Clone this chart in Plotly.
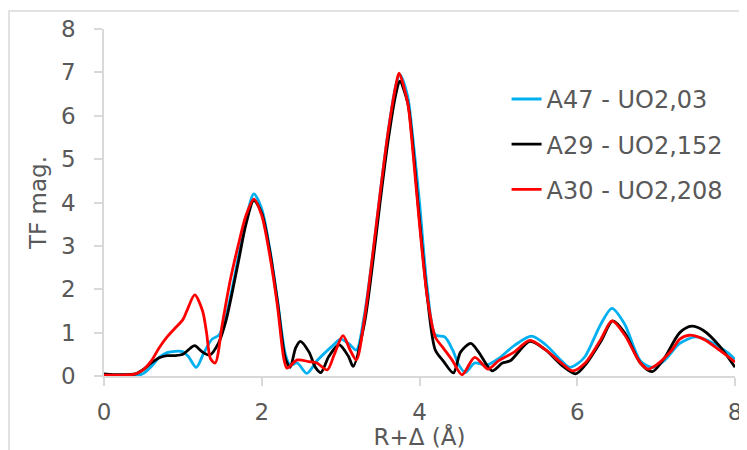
import plotly.graph_objects as go

# A47 - UO2,03 (blue)
r_a47 = [0, 0.2, 0.4, 0.5, 0.6, 0.7, 0.8, 0.9, 1.0, 1.07, 1.17, 1.27, 1.37, 1.46, 1.55, 1.7, 1.8, 1.9, 2.0, 2.1, 2.2, 2.3, 2.36, 2.45, 2.57, 2.7, 2.9, 3.0, 3.1, 3.2, 3.3, 3.4, 3.5, 3.6, 3.7, 3.75, 3.85, 3.9, 4.0, 4.1, 4.2, 4.32, 4.42, 4.5, 4.58, 4.7, 4.85, 5.0, 5.2, 5.42, 5.6, 5.8, 5.9, 6.0, 6.1, 6.3, 6.44, 6.6, 6.8, 6.95, 7.1, 7.3, 7.5, 7.7, 7.9, 8.0]
v_a47 = [0.02, 0.0, 0.0, 0.06, 0.22, 0.43, 0.54, 0.57, 0.56, 0.45, 0.2, 0.55, 0.85, 0.95, 1.4, 2.7, 3.6, 4.2, 3.85, 2.95, 1.75, 0.5, 0.25, 0.3, 0.06, 0.35, 0.7, 0.85, 0.75, 0.6, 1.4, 2.7, 4.2, 5.6, 6.7, 6.95, 6.45, 5.75, 4.0, 2.0, 0.95, 0.9, 0.6, 0.25, 0.08, 0.3, 0.25, 0.4, 0.7, 0.92, 0.72, 0.35, 0.2, 0.28, 0.45, 1.2, 1.56, 1.2, 0.35, 0.2, 0.35, 0.75, 0.9, 0.78, 0.55, 0.38]

# A29 - UO2,152 (black)
r_a29 = [0, 0.2, 0.4, 0.5, 0.6, 0.7, 0.8, 0.9, 1.0, 1.1, 1.15, 1.25, 1.34, 1.45, 1.55, 1.7, 1.8, 1.9, 2.0, 2.1, 2.2, 2.3, 2.36, 2.43, 2.49, 2.6, 2.68, 2.75, 2.85, 2.98, 3.1, 3.16, 3.3, 3.4, 3.5, 3.6, 3.7, 3.75, 3.85, 3.9, 4.0, 4.1, 4.2, 4.3, 4.43, 4.52, 4.65, 4.75, 4.92, 5.05, 5.15, 5.4, 5.6, 5.8, 5.98, 6.1, 6.3, 6.45, 6.6, 6.8, 6.95, 7.1, 7.3, 7.45, 7.6, 7.8, 8.0]
v_a29 = [0.05, 0.03, 0.05, 0.15, 0.3, 0.42, 0.47, 0.47, 0.5, 0.65, 0.7, 0.55, 0.48, 0.75, 1.3, 2.6, 3.5, 4.05, 3.75, 2.9, 1.7, 0.4, 0.2, 0.65, 0.8, 0.55, 0.2, 0.08, 0.45, 0.72, 0.45, 0.22, 1.2, 2.5, 4.0, 5.4, 6.5, 6.8, 6.3, 5.6, 3.6, 1.8, 0.6, 0.35, 0.07, 0.55, 0.75, 0.55, 0.12, 0.3, 0.35, 0.8, 0.6, 0.25, 0.05, 0.25, 0.8, 1.27, 1.0, 0.3, 0.1, 0.4, 1.0, 1.15, 1.05, 0.7, 0.2]

# A30 - UO2,208 (red)
r_a30 = [0, 0.2, 0.4, 0.5, 0.6, 0.7, 0.8, 0.9, 1.0, 1.05, 1.15, 1.25, 1.3, 1.35, 1.41, 1.5, 1.6, 1.7, 1.8, 1.9, 2.0, 2.1, 2.2, 2.28, 2.32, 2.45, 2.6, 2.7, 2.83, 2.92, 3.03, 3.12, 3.2, 3.3, 3.4, 3.5, 3.6, 3.7, 3.74, 3.85, 3.9, 4.0, 4.1, 4.2, 4.3, 4.42, 4.54, 4.7, 4.87, 5.0, 5.1, 5.2, 5.4, 5.6, 5.8, 5.94, 6.1, 6.3, 6.44, 6.6, 6.8, 6.9, 7.0, 7.2, 7.3, 7.42, 7.6, 7.8, 8.0]
v_a30 = [0.02, 0.02, 0.05, 0.15, 0.35, 0.65, 0.9, 1.1, 1.3, 1.5, 1.87, 1.5, 1.0, 0.4, 0.3, 1.2, 2.2, 3.0, 3.7, 4.08, 3.7, 2.8, 1.6, 0.4, 0.18, 0.37, 0.33, 0.3, 0.14, 0.5, 0.93, 0.6, 0.37, 1.3, 2.7, 4.2, 5.6, 6.7, 6.98, 6.3, 5.5, 3.5, 1.8, 0.9, 0.65, 0.35, 0.03, 0.43, 0.16, 0.35, 0.45, 0.55, 0.82, 0.6, 0.3, 0.12, 0.3, 0.85, 1.27, 0.95, 0.3, 0.16, 0.25, 0.6, 0.85, 0.94, 0.85, 0.6, 0.32]

x_ticks = [0, 2, 4, 6, 8]
y_ticks = [0, 1, 2, 3, 4, 5, 6, 7, 8]

FONT = "DejaVu Sans"
GREY = "#595959"
AXIS = "#d9d9d9"

fig = go.Figure()
series = [
    ("A47 - UO2,03", r_a47, v_a47, "#00b0f0"),
    ("A29 - UO2,152", r_a29, v_a29, "#000000"),
    ("A30 - UO2,208", r_a30, v_a30, "#ff0000"),
]
for i, (name, xs, ys, col) in enumerate(series):
    fig.add_trace(go.Scatter(
        x=xs, y=ys, name=name, mode="lines",
        line=dict(color=col, width=2.8, shape="spline", smoothing=0.8),
        legendgroup=f"g{i}",
    ))

# page body has an 8px margin, so the figure is sized to the visible area
fig.update_layout(
    width=739, height=442,
    margin=dict(l=96, r=12, t=21, b=74, autoexpand=False),
    plot_bgcolor="white", paper_bgcolor="white",
    font=dict(family=FONT, color=GREY, size=20),
    showlegend=True,
    legend=dict(
        x=0.638, y=0.862, xanchor="left", yanchor="top",
        bgcolor="rgba(0,0,0,0)", font=dict(size=24, color=GREY, family=FONT),
        traceorder="grouped", tracegroupgap=11,
        itemwidth=30,
    ),
    xaxis=dict(
        range=[0, 8], tickvals=x_ticks, ticktext=[str(t) for t in x_ticks],
        showline=True, linecolor=AXIS, linewidth=1.5,
        ticks="outside", ticklen=8, tickcolor=AXIS, tickwidth=1.5,
        showgrid=False, zeroline=False, automargin=False,
        tickfont=dict(size=23, color=GREY, family=FONT),
        ticklabelstandoff=7,
        title=dict(text="R+\u0394 (\u00c5)", font=dict(size=23, color=GREY, family=FONT), standoff=2),
    ),
    yaxis=dict(
        range=[0, 8], tickvals=y_ticks, ticktext=[str(t) for t in y_ticks],
        showline=True, linecolor=AXIS, linewidth=1.5,
        ticks="outside", ticklen=8, tickcolor=AXIS, tickwidth=1.5,
        showgrid=False, zeroline=False, automargin=False,
        tickfont=dict(size=23, color=GREY, family=FONT),
        ticklabelstandoff=14,
        title=dict(text="TF mag.", font=dict(size=23, color=GREY, family=FONT), standoff=8),
    ),
)

# light outer chart-area frame (top and left edges visible, as in the reference)
fig.add_shape(type="rect", xref="paper", yref="paper",
              x0=-95 / 631, x1=1.2, y0=1.052, y1=-0.4,
              line=dict(color=AXIS, width=1.5), fillcolor="rgba(0,0,0,0)", layer="above")

fig.write_html("out.html")
